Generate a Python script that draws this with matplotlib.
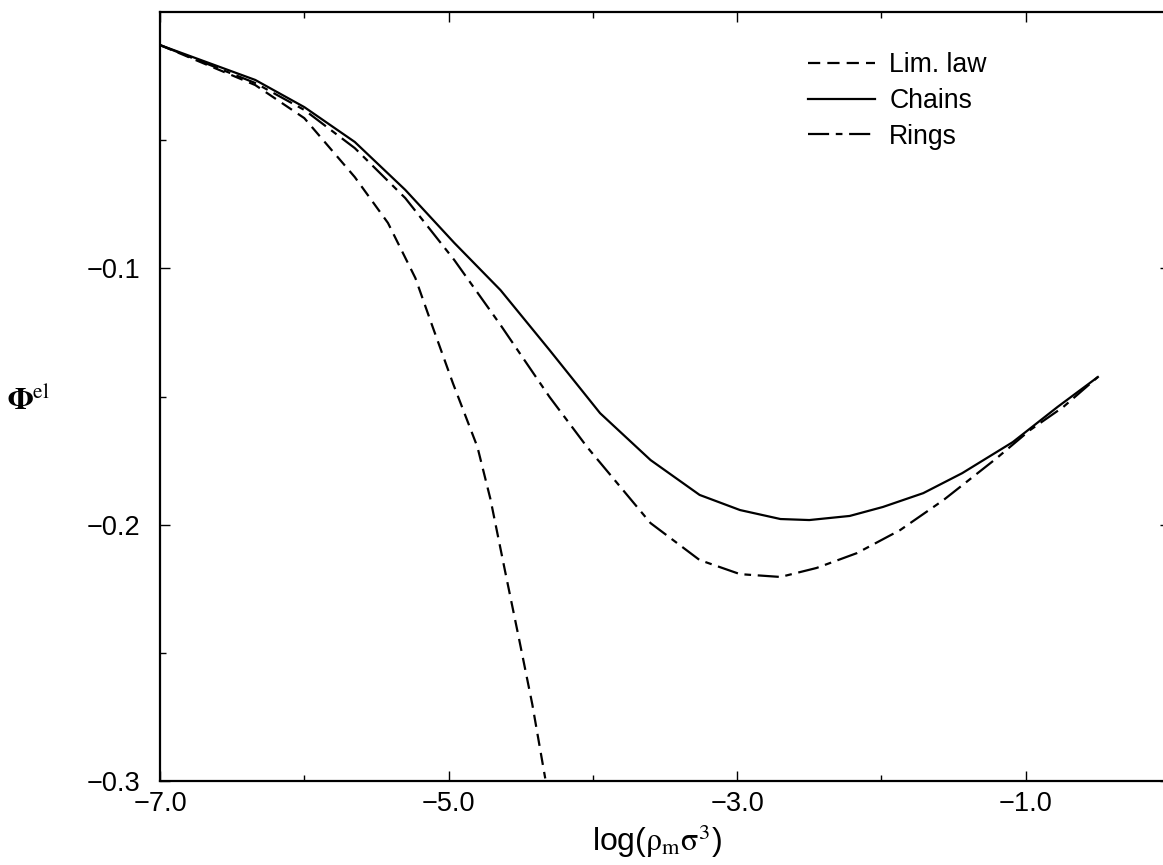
import matplotlib
matplotlib.use("Agg")
import matplotlib.pyplot as plt
from matplotlib.ticker import FixedLocator

plt.rcParams['mathtext.fontset'] = 'stix'
plt.rcParams['font.family'] = ['Liberation Sans', 'DejaVu Sans']

# Chains (solid)
chains_x = [-7.0, -6.34, -6.0, -5.65, -5.30, -4.96, -4.64, -4.30, -3.95, -3.60,
            -3.26, -2.98, -2.70, -2.50, -2.22, -1.99, -1.71, -1.44, -1.09, -0.78, -0.50]
chains_y = [-0.0129, -0.0265, -0.0371, -0.0507, -0.0694, -0.0901, -0.1085, -0.1319,
            -0.1565, -0.1748, -0.1884, -0.1943, -0.1978, -0.1982, -0.1966, -0.1931,
            -0.1877, -0.1799, -0.1678, -0.1541, -0.1424]

# Rings (dash-dot)
rings_x = [-7.0, -6.34, -6.0, -5.65, -5.30, -4.96, -4.64, -4.30, -4.04, -3.60,
           -3.26, -2.98, -2.70, -2.45, -2.17, -1.87, -1.57, -1.20, -0.97, -0.74, -0.50]
rings_y = [-0.0129, -0.0277, -0.0382, -0.0531, -0.0726, -0.0968, -0.1221, -0.1502,
           -0.1697, -0.1994, -0.2138, -0.2193, -0.2204, -0.2169, -0.2111, -0.2021,
           -0.1904, -0.1740, -0.1631, -0.1541, -0.1424]

# Limiting law (dashed)
lim_x = [-7.0, -6.34, -6.0, -5.65, -5.42, -5.23, -5.11, -4.97, -4.80, -4.71,
         -4.61, -4.51, -4.42, -4.33]
lim_y = [-0.0129, -0.0285, -0.0414, -0.0644, -0.0823, -0.1038, -0.1229, -0.1448,
         -0.1697, -0.1900, -0.2177, -0.2450, -0.2700, -0.2990]

labels = ["Lim. law", "Chains", "Rings"]
xticks_major = [-7.0, -5.0, -3.0, -1.0]
xtick_labels = ["\u22127.0", "\u22125.0", "\u22123.0", "\u22121.0"]
yticks_major = [-0.3, -0.2, -0.1]
ytick_labels = ["\u22120.3", "\u22120.2", "\u22120.1"]

W, H = 1163, 865
fig = plt.figure(figsize=(W / 100, H / 100), dpi=100)
ax = fig.add_axes([160 / W, (H - 781) / H, (1170 - 160) / W, (781 - 12) / H])

lw = 1.6
ax.plot(lim_x, lim_y, color='black', lw=lw, linestyle=(0, (5.5, 3.2)), label=labels[0])
ax.plot(chains_x, chains_y, color='black', lw=lw, linestyle='-', label=labels[1])
ax.plot(rings_x, rings_y, color='black', lw=lw, linestyle=(0, (9.5, 3.0, 3.0, 3.0)), label=labels[2])

ax.set_xlim(-7.0, 0.0)
ax.set_ylim(-0.3, 0.0)

ax.xaxis.set_major_locator(FixedLocator(xticks_major))
ax.set_xticklabels(xtick_labels)
ax.xaxis.set_minor_locator(FixedLocator([-6.0, -4.0, -2.0]))
ax.yaxis.set_major_locator(FixedLocator(yticks_major))
ax.set_yticklabels(ytick_labels)
ax.yaxis.set_minor_locator(FixedLocator([-0.25, -0.15, -0.05]))

ax.tick_params(which='both', direction='in', top=True, right=True, labelsize=19.5, width=1.0)
ax.tick_params(which='major', length=7)
ax.tick_params(which='minor', length=4)
ax.tick_params(axis='y', pad=14)
ax.tick_params(axis='x', pad=7)
for s in ax.spines.values():
    s.set_linewidth(1.6)

leg = ax.legend(loc='upper left', bbox_to_anchor=((808 - 160) / (1170 - 160), 1 - (52 - 12) / (781 - 12)),
                frameon=False, fontsize=19.2, handlelength=2.5, handletextpad=0.55,
                labelspacing=0.37, borderaxespad=0, borderpad=0)

fig.text(657 / W, 1 - 841 / H, r'log($\mathrm{\rho}_{\mathrm{m}}\mathrm{\sigma}^{3}$)', ha='center', va='center', fontsize=23)
fig.text(28 / W, 1 - 403 / H, r'$\mathbf{\Phi}^{\mathrm{el}}$', ha='center', va='center', fontsize=22)

fig.savefig('out.png', dpi=100)
